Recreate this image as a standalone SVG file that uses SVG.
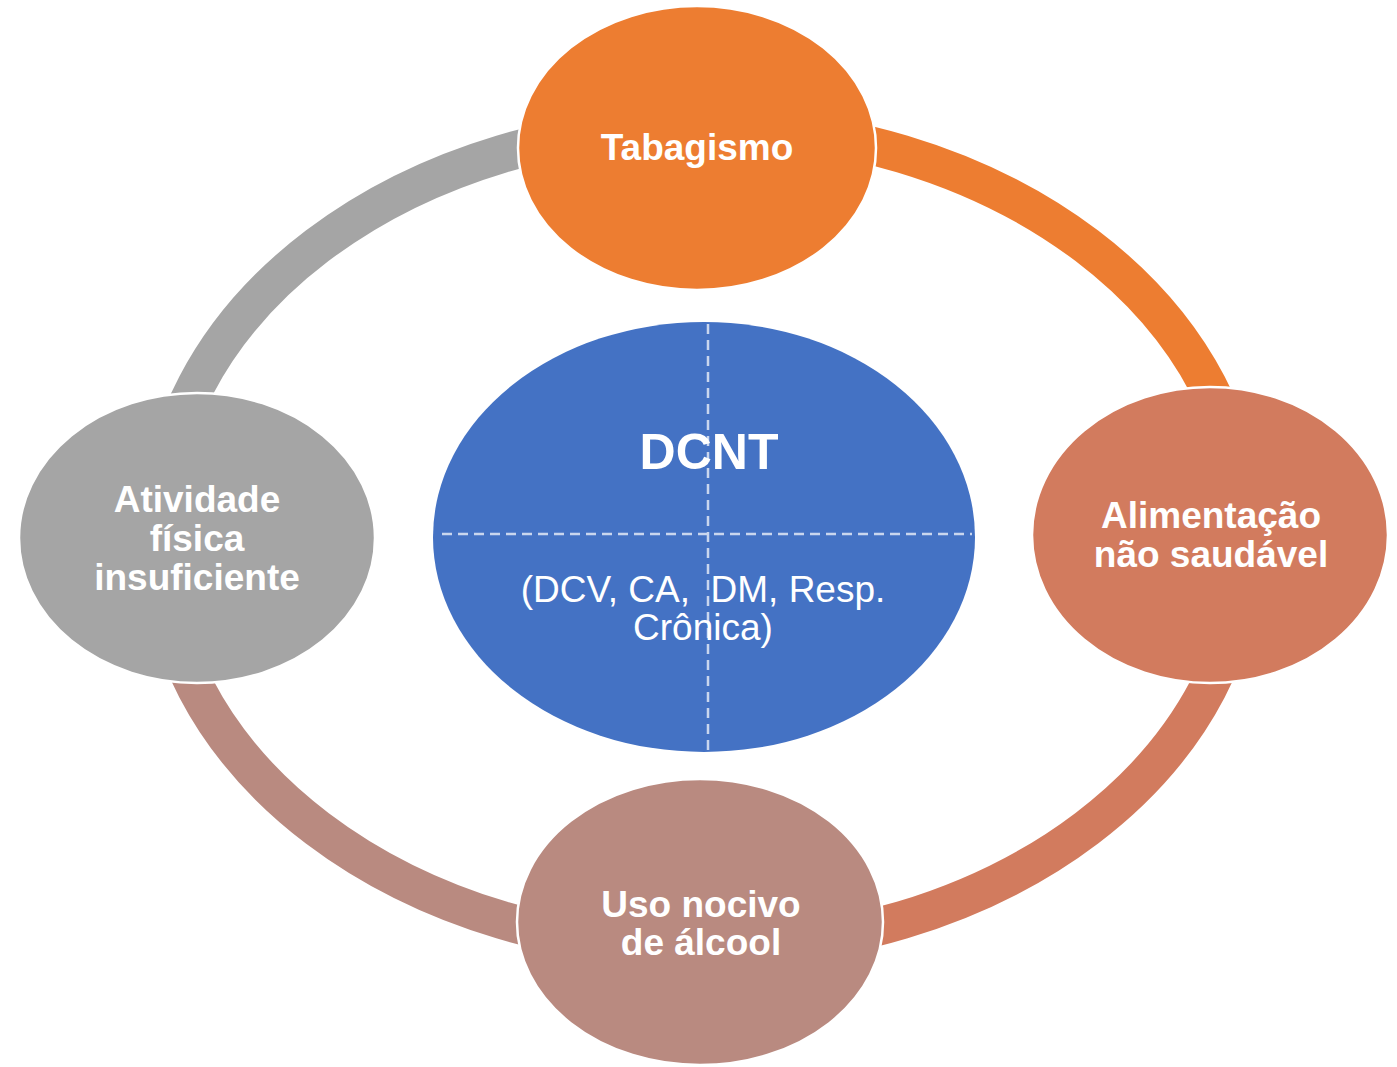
<svg xmlns="http://www.w3.org/2000/svg" width="1397" height="1067" viewBox="0 0 1397 1067">
  <style>
    .arc { fill: none; stroke-width: 38; stroke-linecap: butt; }
    .node { stroke: #FFFFFF; stroke-width: 2.5; }
    .lbl { font-family: "Liberation Sans", Arial, sans-serif; font-weight: bold; font-size: 37px; fill: #FFFFFF; text-anchor: middle; }
    .sub { font-family: "Liberation Sans", Arial, sans-serif; font-size: 37px; fill: #FFFFFF; text-anchor: middle; }
    .guide { stroke: #C9D6EE; stroke-width: 2.5; stroke-dasharray: 10 6; fill: none; }
  </style>
  <rect width="1397" height="1067" fill="#FFFFFF"/>

  <!-- ring of connecting arcs, one quarter per risk factor -->
  <g id="connectors">
    <path class="arc" stroke="#A5A5A5" d="M158,537 A544,412 0 0 1 702,125"/>
    <path class="arc" stroke="#ED7D31" d="M702,125 A544,412 0 0 1 1246,537"/>
    <path class="arc" stroke="#D27B5E" d="M1246,537 A544,412 0 0 1 702,949"/>
    <path class="arc" stroke="#B98A80" d="M702,949 A544,412 0 0 1 158,537"/>
  </g>

  <!-- central disease node with its dashed quadrant guides -->
  <g id="node-dcnt">
    <ellipse cx="704" cy="537" rx="271" ry="215" fill="#4472C4"/>
    <line class="guide" x1="442" y1="534" x2="972" y2="534"/>
    <line class="guide" x1="708" y1="324" x2="708" y2="750"/>
    <text class="lbl" x="709" y="469" style="font-size:50px">DCNT</text>
    <text class="sub" x="703" y="602" xml:space="preserve">(DCV, CA,  DM, Resp.</text>
    <text class="sub" x="703" y="640">Crônica)</text>
  </g>

  <g id="node-tabagismo">
    <ellipse class="node" cx="697" cy="148" rx="179" ry="142" fill="#ED7D31"/>
    <text class="lbl" x="697" y="160">Tabagismo</text>
  </g>

  <g id="node-alimentacao">
    <ellipse class="node" cx="1210" cy="535" rx="178" ry="148" fill="#D27B5E"/>
    <text class="lbl" x="1211" y="528">Alimentação</text>
    <text class="lbl" x="1211" y="567">não saudável</text>
  </g>

  <g id="node-alcool">
    <ellipse class="node" cx="700" cy="922" rx="183" ry="143" fill="#B98A80"/>
    <text class="lbl" x="701" y="917">Uso nocivo</text>
    <text class="lbl" x="701" y="955">de álcool</text>
  </g>

  <g id="node-atividade">
    <ellipse class="node" cx="197" cy="538" rx="178" ry="145" fill="#A5A5A5"/>
    <text class="lbl" x="197" y="512">Atividade</text>
    <text class="lbl" x="197" y="551">física</text>
    <text class="lbl" x="197" y="590">insuficiente</text>
  </g>
</svg>
